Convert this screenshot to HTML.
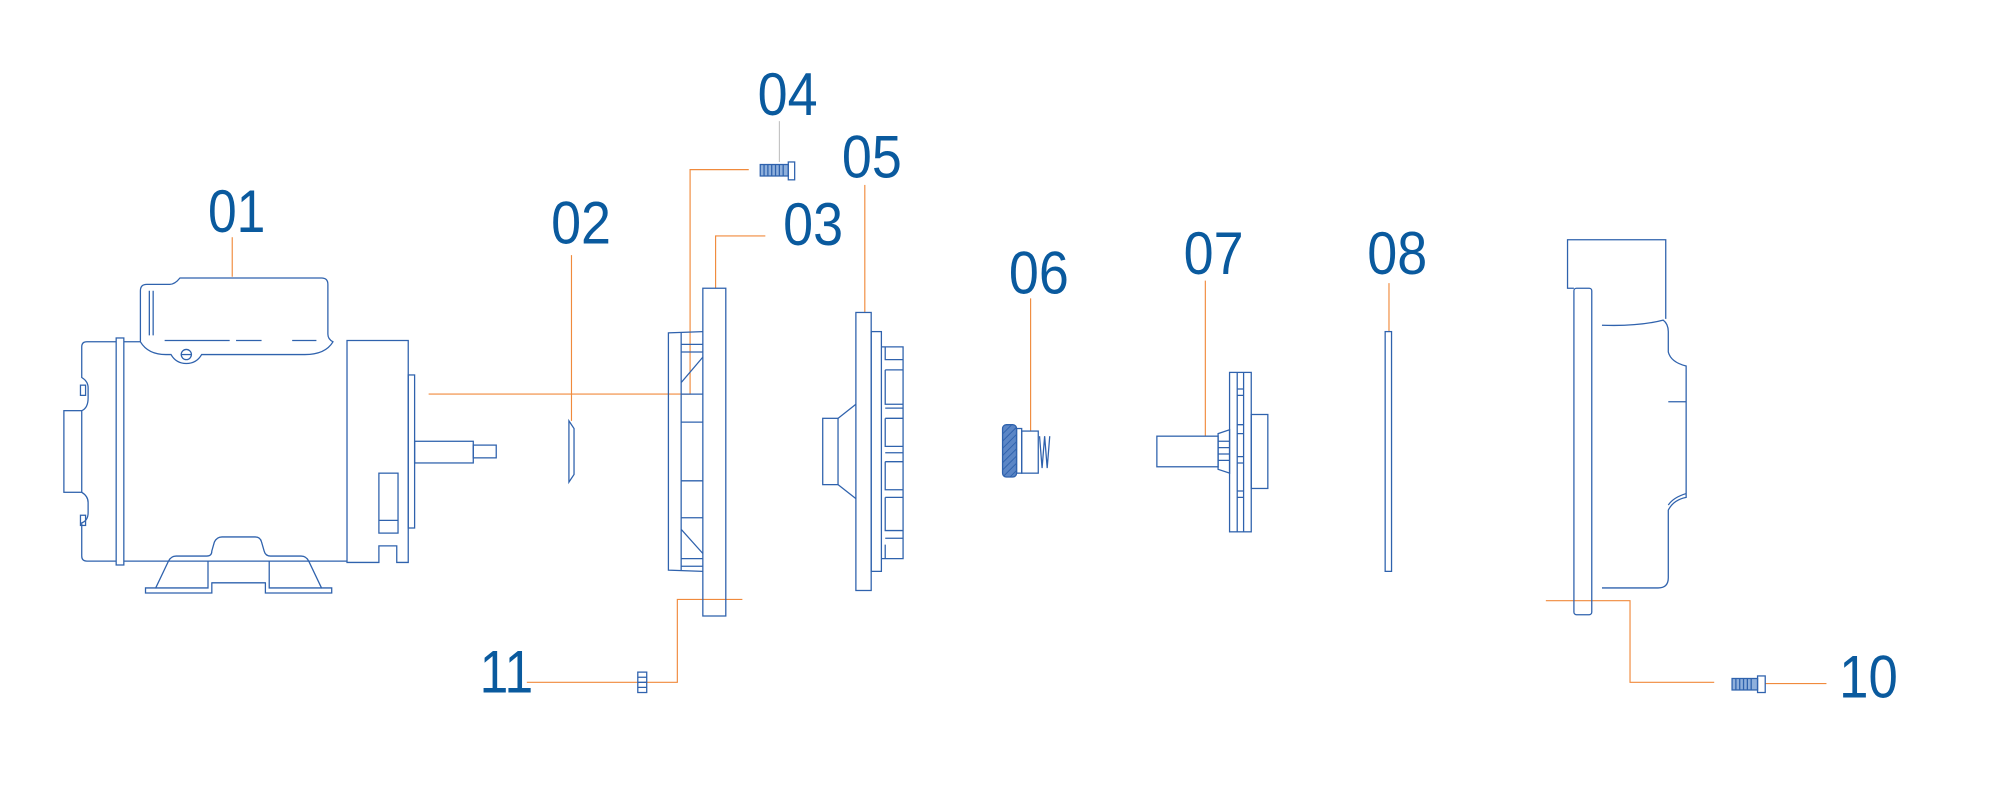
<!DOCTYPE html>
<html><head><meta charset="utf-8"><style>
html,body{margin:0;padding:0;background:#fff;width:2000px;height:792px;overflow:hidden}
svg{display:block}
text{font-family:"Liberation Sans",sans-serif;font-size:47px;fill:#0a5a9e}
.b{fill:none;stroke:#2f62ad;stroke-width:1}
.o{fill:none;stroke:#f08a3c;stroke-width:0.9}
</style></head><body>
<svg width="2000" height="792" viewBox="0 0 1568 621" xmlns="http://www.w3.org/2000/svg">
<defs>
<pattern id="h" width="4" height="4" patternUnits="userSpaceOnUse" patternTransform="rotate(45)">
<rect width="4" height="4" fill="#5b86c6"/><path d="M0,0V4" stroke="#2f62ad" stroke-width="1.5"/>
</pattern>
</defs>
<!-- labels -->
<text x="163" y="182" textLength="45" lengthAdjust="spacingAndGlyphs">01</text>
<text x="432" y="191" textLength="47" lengthAdjust="spacingAndGlyphs">02</text>
<text x="614" y="192" textLength="47" lengthAdjust="spacingAndGlyphs">03</text>
<text x="594" y="90" textLength="47" lengthAdjust="spacingAndGlyphs">04</text>
<text x="660" y="139" textLength="47" lengthAdjust="spacingAndGlyphs">05</text>
<text x="791" y="230" textLength="47" lengthAdjust="spacingAndGlyphs">06</text>
<text x="928" y="215" textLength="47" lengthAdjust="spacingAndGlyphs">07</text>
<text x="1072" y="215" textLength="47" lengthAdjust="spacingAndGlyphs">08</text>
<text x="376" y="543" textLength="42" lengthAdjust="spacingAndGlyphs">11</text>
<text x="1442" y="547" textLength="46" lengthAdjust="spacingAndGlyphs">10</text>

<!-- leaders -->
<path class="o" d="M182,186V217"/>
<path class="o" d="M448,200V330"/>
<path class="o" d="M336,309H541V133H587"/>
<path class="o" d="M561,226V185H600"/>
<path class="o" d="M678,145V245"/>
<path class="o" d="M808,234V338"/>
<path class="o" d="M945,220V342"/>
<path class="o" d="M1089,222V260"/>
<path class="o" d="M582,470H531V535H505"/>
<path class="o" d="M500,535H413"/>
<path class="o" d="M1212,471H1278V535H1344"/>
<path class="o" d="M1384,536H1432"/>
<path d="M611,95V127" stroke="#bbb" stroke-width="0.8"/>

<!-- 01 motor -->
<g class="b">
<rect x="50" y="322" width="14" height="64"/>
<path d="M91,268H68q-4,0 -4,4V296q5,3 5,8V312q0,8 -5,10M64,386q5,3 5,8V402q0,6 -5,8V436q0,4 4,4H91"/>
<rect x="63" y="302" width="4" height="8"/><rect x="63" y="404" width="4" height="8"/>
<rect x="91" y="265" width="6" height="178"/>
<path d="M97,268H110M97,440H272"/>
<path d="M110,268V228q0,-5 5,-5H133q4,0 8,-5H252q5,0 5,5V262q0,4 4,6q-6,10 -22,10H158q-4,7 -12,7t-12,-7H130q-14,0 -20,-10"/>
<path d="M117,228V263M120,228V263M129,267H180M185,267H205M229,267H248"/>
<circle cx="146" cy="278" r="4"/><path d="M142,278H150"/>
<path d="M272,267H320V441H311V428H297V441H272Z"/>
<rect x="297" y="371" width="15" height="47"/><path d="M297,408H312"/>
<rect x="320" y="294" width="5" height="120"/>
<rect x="325" y="346" width="46" height="17"/>
<rect x="371" y="349" width="18" height="10"/>
<path d="M114,465V461H122L132,440Q134,436 138,436H162Q166,436 166,432L168,425Q170,421 174,421H200Q204,421 205,425L207,432Q208,436 212,436H236Q240,436 242,440L252,461H260V465H208V457H166V465Z"/>
<path d="M166,457H208M122,461H163V440M252,461H211V440"/>
</g>

<!-- 02 -->
<path class="b" d="M446,330L450,336V372L446,378Z"/>

<!-- 03 -->
<g class="b">
<rect x="551" y="226" width="18" height="257"/>
<path d="M551,260L524,261V447L551,448"/>
<path d="M534,261V447M534,270H551M534,276H551M534,300L551,280M534,309H551M534,331H551M534,377H551M534,406H551M534,415L551,434M534,438H551M534,444H551"/>
</g>

<!-- 04 screw -->
<g class="b">
<rect x="596" y="129" width="22" height="9" fill="#8fb0dc"/>
<rect x="618" y="127" width="5" height="14"/>
<path d="M599,129V138M602,129V138M605,129V138M608,129V138M611,129V138M614,129V138"/>
</g>

<!-- 11 -->
<g class="b"><rect x="500" y="527" width="7" height="16"/><path d="M500,531H507M500,535H507M500,539H507"/></g>

<!-- 05 -->
<g class="b">
<rect x="671" y="245" width="12" height="218"/>
<rect x="683" y="260" width="8" height="188"/>
<path d="M691,272H708V438H691M694,272V282H708M694,290H708V317H694V290M694,320H708M694,328H708V350H694V328M694,355H708M694,362H708V384H694V362M694,390H708V416H694V390M694,422H708M694,427V438"/>
<rect x="645" y="328" width="12" height="52"/>
<path d="M657,328L671,317M657,380L671,391"/>
</g>

<!-- 06 -->
<g class="b">
<rect x="786" y="333" width="11" height="41" rx="3" fill="url(#h)"/>
<rect x="797" y="336" width="4" height="35"/>
<rect x="801" y="338" width="13" height="33"/>
<path d="M815,342L817,367L819,342L821,367L823,342"/>
</g>

<!-- 07 -->
<g class="b">
<rect x="907" y="342" width="48" height="24"/>
<path d="M955,340L964,337V371L955,368Z"/>
<path d="M955,346H964M955,351H964M955,356H964M955,361H964"/>
<rect x="964" y="292" width="17" height="125"/>
<path d="M970,292V417M975,292V417M970,305H975M970,310H975M970,333H975M970,340H975M970,358H975M970,363H975M970,385H975M970,390H975"/>
<rect x="981" y="325" width="13" height="58"/>
</g>

<!-- 08 -->
<rect class="b" x="1086" y="260" width="5" height="188"/>

<!-- 10 volute -->
<g class="b">
<path d="M1234,226H1229V188H1306V250"/>
<rect x="1234" y="226" width="14" height="256" rx="2"/>
<path d="M1256,255Q1285,256 1304,251Q1308,254 1308,260V276Q1310,284 1322,287V390Q1312,392 1308,400V453Q1308,461 1300,461H1256"/>
<path d="M1308,315H1322M1308,396Q1312,390 1322,387"/>
<rect x="1358" y="532" width="20" height="9" fill="#8fb0dc"/>
<path d="M1361,532V541M1364,532V541M1367,532V541M1370,532V541M1373,532V541"/>
<rect x="1378" y="530" width="6" height="13"/>
</g>
</svg>
</body></html>
